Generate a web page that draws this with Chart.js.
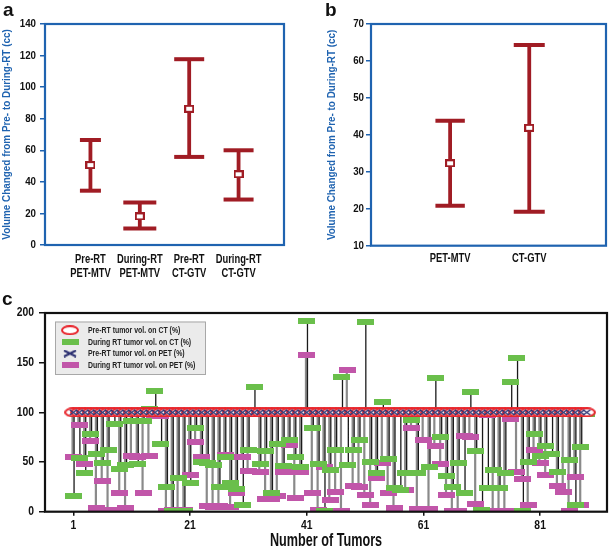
<!DOCTYPE html>
<html><head><meta charset="utf-8">
<script src="https://cdn.jsdelivr.net/npm/chart.js@4/dist/chart.umd.min.js"></script>
<style>
html,body{margin:0;padding:0;background:#fff;}
#wrap{position:relative;width:609px;height:548px;overflow:hidden;background:#fff;}
canvas{position:absolute;}
.lbl{position:absolute;font:bold 19px 'Liberation Sans',Arial,sans-serif;color:#111;line-height:1;}
</style></head><body>
<div id="wrap">
<canvas id="ca" style="left:0;top:0" width="300" height="290"></canvas>
<canvas id="cb" style="left:300px;top:0" width="309" height="290"></canvas>
<canvas id="cc" style="left:0;top:290px" width="609" height="258"></canvas>
<div class="lbl" style="left:3px;top:0px">a</div>
<div class="lbl" style="left:325px;top:0px">b</div>
<div class="lbl" style="left:2px;top:289px">c</div>
</div>
<script>
// ---------- Panel a data ----------
const catsA = [['Pre-RT','PET-MTV'],['During-RT','PET-MTV'],['Pre-RT','CT-GTV'],['During-RT','CT-GTV']];
const meanA = [50.6, 18.1, 86.3, 44.8];
const lowA  = [34.4, 10.5, 55.8, 28.8];
const highA = [66.5, 27.0, 117.7, 60.0];
const yTicksA = [0, 140, 20];
// ---------- Panel b data ----------
const catsB = ['PET-MTV','CT-GTV'];
const meanB = [32.3, 41.9];
const lowB  = [20.8, 19.2];
const highB = [43.8, 64.3];
const yTicksB = [10, 70, 10];
// ---------- Panel c data ----------
const tumorTicks = [1, 21, 41, 61, 81];
const preCtPct = [100,100,100,100,100,100,100,100,100,100,100,100,100,100,100,100,100,100,100,100,100,100,100,100,100,100,100,100,100,100,100,100,100,100,100,100,100,100,100,100,100,100,100,100,100,100,100,100,100,100,100,100,100,100,100,100,100,100,100,100,100,100,100,100,100,100,100,100,100,100,100,100,100,100,100,100,100,100,100,100,100,100,100,100,100,100,100,100,100];
const prePetPct = [100,100,100,100,100,100,100,100,100,100,100,100,100,100,100,100,100,100,100,100,100,100,100,100,100,100,100,100,100,100,100,100,100,100,100,100,100,100,100,100,100,100,100,100,100,100,100,100,100,100,100,100,100,100,100,100,100,100,100,100,100,100,100,100,100,100,100,100,100,100,100,100,100,100,100,100,100,100,100,100,100,100,100,100,100,100,100,100,100];
const duringCtPct = [16,54,39,78,58,49,62,88,43,47, 91,48,91,103,121,68,25,1,34,1, 29,84,50,49,47,25,55,29,23,7, 62,126,48,61,19,68,46,72,55,45, 192,84,48,1,42,62,136,47,62,72, 191,50,39,110,53,24,22,39,92,39, 98,45,135,75,36,25,49,19,120,61, 2,24,42,24,39,131,155,1,50,78, 56,66,58,40,98,52,7,65,98];
const duringPetPct = [55,87,48,71,4,31,2,98,19,4, 56,55,19,56,97,96,1,2,1,2, 37,70,55,6,5,6,57,5,19,55, 41,98,40,13,13,16,40,67,14,40, 158,19,2,45,12,20,1,143,26,25, 17,7,34,49,19,4,98,22,84,3, 72,3,66,48,17,1,1,76,75,8, 98,97,1,1,1,93,40,33,7,62, 49,37,98,26,20,1,35,7,98];
const legendC = ['Pre-RT tumor vol. on CT (%)','During RT tumor vol. on CT (%)','Pre-RT tumor vol. on PET (%)','During RT tumor vol. on PET (%)'];

// ---------- styles ----------
const FONT = "'Liberation Sans',Arial,sans-serif";
const DARKRED = '#a01c24';
const BLUE = '#1f63b0';
const GREEN = '#6abf4b';
const MAGENTA = '#c156a9';
const RED = '#e8262d';
const NAVY = '#2b2f70';
// horizontal condensing per font size (imitates a bold condensed face)
const SX = [[11.6, 0.84], [12, 0.78], [11, 0.9], [12.2, 0.85], [18.6, 0.68], [9, 0.77]];

function mkImg(w, h, draw) { const c = document.createElement('canvas'); c.width = w; c.height = h; draw(c.getContext('2d'), w, h); return c; }
const meanImg = mkImg(10, 8, (g) => { g.fillStyle = '#fff'; g.fillRect(1,1,8,6); g.strokeStyle = DARKRED; g.lineWidth = 2; g.strokeRect(1,1,8,6); });
const greenImg = mkImg(17, 6, (g,w,h) => { g.fillStyle = GREEN; g.fillRect(0,0,w,h); });
const magImg = mkImg(17, 6, (g,w,h) => { g.fillStyle = MAGENTA; g.fillRect(0,0,w,h); });
const ellImg = mkImg(18, 10, (g,w,h) => { g.beginPath(); g.ellipse(w/2, h/2, 8, 4, 0, 0, Math.PI*2); g.fillStyle = '#fff'; g.fill(); g.strokeStyle = RED; g.lineWidth = 2; g.stroke(); });
const xImg = mkImg(9, 7, (g,w,h) => { g.strokeStyle = NAVY; g.lineWidth = 1.4; g.beginPath(); g.moveTo(1,1); g.lineTo(w-1,h-1); g.moveTo(w-1,1); g.lineTo(1,h-1); g.stroke(); });
const xLegImg = mkImg(14, 8, (g,w,h) => { g.strokeStyle = NAVY; g.lineWidth = 2; g.beginPath(); g.moveTo(1,1); g.lineTo(w-1,h-1); g.moveTo(w-1,1); g.lineTo(1,h-1); g.stroke(); });

Chart.defaults.font.family = FONT;

const condensePlugin = {
  id: 'condense',
  beforeInit(chart) {
    const ctx = chart.ctx;
    if (ctx._condensed) return;
    const orig = ctx.fillText.bind(ctx);
    ctx.fillText = function (t, x, y, mw) {
      const m = /([\d.]+)px/.exec(ctx.font);
      let sx = 1;
      if (m) { const s = parseFloat(m[1]); const e = SX.find(p => Math.abs(p[0] - s) < 0.05); if (e) sx = e[1]; }
      if (sx === 1) { return mw === undefined ? orig(t, x, y) : orig(t, x, y, mw); }
      ctx.save(); ctx.translate(x, y); ctx.scale(sx, 1);
      if (mw === undefined) orig(t, 0, 0); else orig(t, 0, 0, mw / sx);
      ctx.restore();
    };
    ctx._condensed = true;
  }
};

const framePlugin = {
  id: 'frame',
  afterDatasetsDraw(chart, args, o) {
    const { ctx, chartArea: a } = chart;
    ctx.save(); ctx.strokeStyle = o.color; ctx.lineWidth = o.width;
    ctx.strokeRect(a.left, a.top, a.right - a.left, a.bottom - a.top);
    ctx.restore();
  }
};

function errorSets(pos, lows, highs, means, capR) {
  const stem = [];
  pos.forEach((p, i) => { stem.push({x:p, y:lows[i]}, {x:p, y:highs[i]}, {x:p, y:null}); });
  const caps = [];
  pos.forEach((p, i) => { caps.push({x:p, y:lows[i]}, {x:p, y:highs[i]}); });
  return [
    { data: means.map((m, i) => ({x: pos[i], y: m})), pointStyle: meanImg, pointRadius: 5, order: 0 },
    { data: caps, pointStyle: 'line', pointRadius: (c) => capR[Math.floor(c.dataIndex / 2)], pointBorderWidth: 4, pointBorderColor: DARKRED, order: 1 },
    { data: stem, showLine: true, spanGaps: false, borderColor: DARKRED, borderWidth: 3.8, pointRadius: 0, order: 2 }
  ];
}

function errorChart(id, cats, means, lows, highs, yt, xr, capR, opt) {
  const pos = cats.map((c, i) => i + 1);
  return new Chart(document.getElementById(id), {
    type: 'scatter',
    data: { datasets: errorSets(pos, lows, highs, means, capR) },
    plugins: [condensePlugin, framePlugin],
    options: {
      responsive: false, animation: false, events: [],
      layout: { padding: opt.pad, autoPadding: false },
      plugins: { legend: { display: false }, tooltip: { enabled: false }, frame: { color: BLUE, width: 2.2 } },
      scales: {
        x: {
          type: 'linear', min: xr[0], max: xr[1],
          afterBuildTicks: (s) => { s.ticks = pos.map(v => ({ value: v })); },
          ticks: { callback: (v) => cats[Math.round(v) - 1], color: '#111', padding: opt.xPad, maxRotation: 0, autoSkip: false,
                   font: { family: FONT, size: 12, weight: 'bold', lineHeight: 1.2 } },
          grid: { display: false, drawTicks: false }, border: { display: false },
          afterFit: (s) => { s.height = opt.xH; }
        },
        y: {
          min: yt[0], max: yt[1],
          ticks: { stepSize: yt[2], color: '#111', padding: opt.yPad, font: { family: FONT, size: 11.6, weight: 'bold' } },
          grid: { display: true, drawOnChartArea: false, drawTicks: true, tickLength: 5, color: BLUE, lineWidth: 1.5 },
          border: { display: false },
          title: { display: true, text: 'Volume Changed from Pre- to During-RT (cc)', color: BLUE,
                   font: { family: FONT, size: 11, weight: 'bold', lineHeight: 1.2 }, padding: { top: opt.titlePad, bottom: 0 } },
          afterFit: (s) => { s.width = opt.yW; }
        }
      }
    }
  });
}

errorChart('ca', catsA, meanA, lowA, highA, yTicksA, [0.08, 4.92], [10.5, 16.5, 15, 15],
  { pad: { top: 24, right: 16, bottom: 0, left: 0 }, xH: 45, yW: 45, xPad: 7, yPad: 4, titlePad: 0.5 });
errorChart('cb', catsB, meanB, lowB, highB, yTicksB, [0.0, 2.97], [14.7, 15.5],
  { pad: { top: 24, right: 3, bottom: 0, left: 0 }, xH: 44.3, yW: 71, xPad: 6, yPad: 2, titlePad: 25 });

// ---------- Panel c ----------
const idx = duringCtPct.map((v, i) => i + 1);
function stems(vals, base, dx) {
  const out = [];
  vals.forEach((v, i) => { out.push({x: idx[i] + dx, y: base[i]}, {x: idx[i] + dx, y: v}, {x: idx[i] + dx, y: null}); });
  return out;
}
const legendPlugin = {
  id: 'boxLegend',
  afterDatasetsDraw(chart) {
    const ctx = chart.ctx;
    const x0 = 55, y0 = 31.5, w = 150, h = 52.5;
    ctx.save();
    ctx.fillStyle = '#ebebeb'; ctx.fillRect(x0, y0, w, h);
    ctx.strokeStyle = '#a8a8a8'; ctx.lineWidth = 1; ctx.strokeRect(x0 + 0.5, y0 + 0.5, w, h);
    const imgs = [ellImg, greenImg, xLegImg, magImg];
    const ys = [40.2, 52.2, 63.5, 75.2];
    ctx.font = "bold 9px " + FONT; ctx.fillStyle = '#222'; ctx.textBaseline = 'middle'; ctx.textAlign = 'left';
    imgs.forEach((im, i) => {
      ctx.drawImage(im, 70 - im.width / 2, ys[i] - im.height / 2);
      ctx.fillText(legendC[i], 88, ys[i]);
    });
    ctx.restore();
  }
};
new Chart(document.getElementById('cc'), {
  type: 'scatter',
  data: { datasets: [
    { label: legendC[0], data: idx.map((t, i) => ({x: t, y: preCtPct[i]})), pointStyle: ellImg, pointRadius: 6, order: 2 },
    { label: legendC[1], data: idx.map((t, i) => ({x: t, y: duringCtPct[i]})), pointStyle: greenImg, pointRadius: 6, order: 3 },
    { label: legendC[2], data: idx.map((t, i) => ({x: t, y: prePetPct[i]})), pointStyle: xImg, pointRadius: 4, order: 1 },
    { label: legendC[3], data: idx.map((t, i) => ({x: t, y: duringPetPct[i]})), pointStyle: magImg, pointRadius: 6, order: 4 },
    { label: 'petStem', data: stems(duringPetPct, prePetPct, -0.13), showLine: true, spanGaps: false, borderColor: '#8a8a8a', borderWidth: 2.2, pointRadius: 0, order: 6 },
    { label: 'ctStem', data: stems(duringCtPct, preCtPct, 0.13), showLine: true, spanGaps: false, borderColor: '#1a1a1a', borderWidth: 1.3, pointRadius: 0, order: 5 }
  ] },
  plugins: [condensePlugin, framePlugin, legendPlugin],
  options: {
    responsive: false, animation: false, events: [],
    layout: { padding: { top: 23, right: 2, bottom: 0, left: 0 }, autoPadding: false },
    plugins: { legend: { display: false }, tooltip: { enabled: false }, frame: { color: '#111', width: 2.2 } },
    scales: {
      x: {
        type: 'linear', min: -3.85, max: 92.46,
        afterBuildTicks: (s) => { s.ticks = tumorTicks.map(v => ({ value: v })); },
        ticks: { color: '#111', padding: 3, maxRotation: 0, autoSkip: false, font: { family: FONT, size: 12.2, weight: 'bold' } },
        grid: { display: true, drawOnChartArea: false, drawTicks: true, tickLength: 4, color: '#111', lineWidth: 1.5 },
        border: { display: false },
        title: { display: true, text: 'Number of Tumors', color: '#111', font: { family: FONT, size: 18.6, weight: 'bold', lineHeight: 0.8 }, padding: { top: 0, bottom: 0 } },
        afterFit: (s) => { s.height = 36.3; }
      },
      y: {
        min: 0, max: 200,
        ticks: { stepSize: 50, color: '#111', padding: 5, font: { family: FONT, size: 12.2, weight: 'bold' } },
        grid: { display: true, drawOnChartArea: false, drawTicks: true, tickLength: 6, color: '#111', lineWidth: 1.5 },
        border: { display: false },
        afterFit: (s) => { s.width = 45; }
      }
    }
  }
});
</script>
</body></html>
